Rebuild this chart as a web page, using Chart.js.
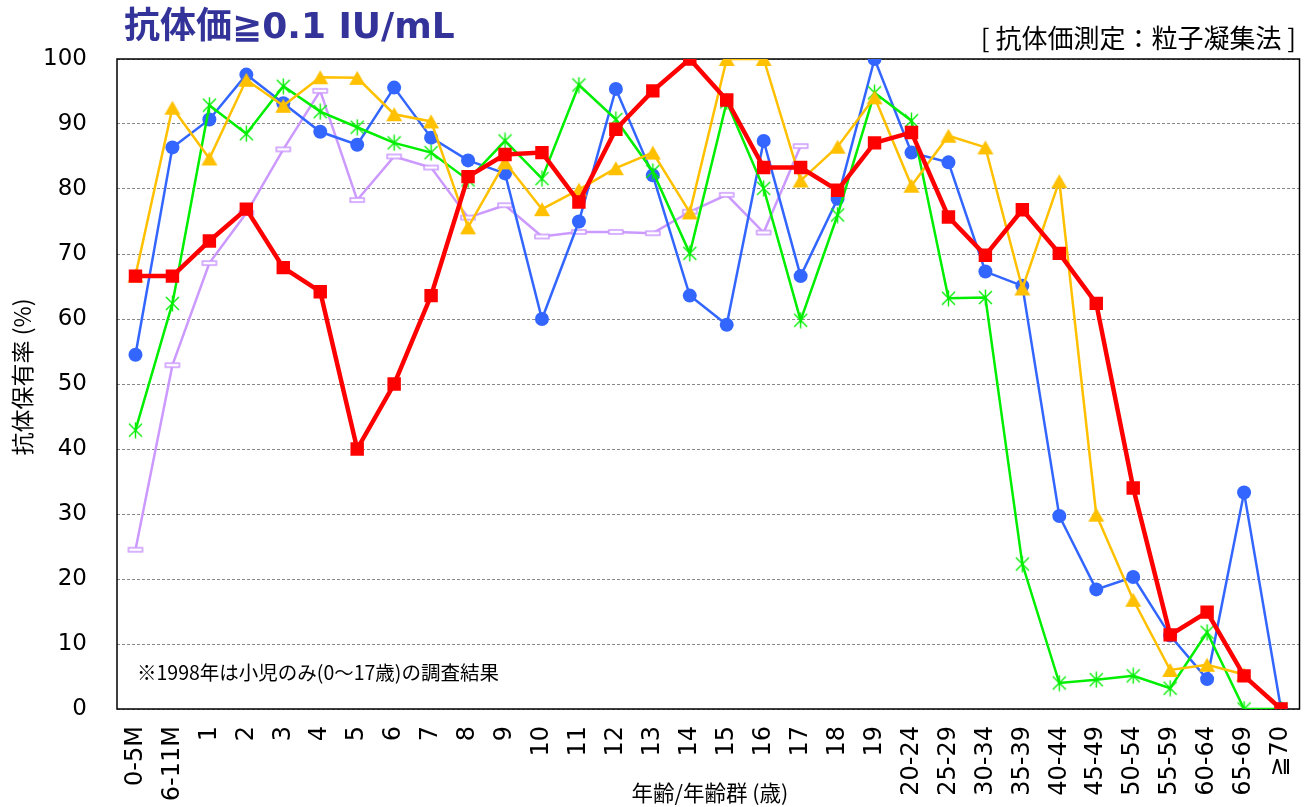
<!DOCTYPE html>
<html><head><meta charset="utf-8">
<script src="https://cdn.jsdelivr.net/npm/chart.js@4/dist/chart.umd.min.js"></script>
<style>html,body{margin:0;padding:0;background:#fff;overflow:hidden;}</style>
</head><body>
<canvas id="c" width="1309" height="807"></canvas>
<script>
const categories = ['0-5M','6-11M','1','2','3','4','5','6','7','8','9','10','11','12','13','14','15','16','17','18','19','20-24','25-29','30-34','35-39','40-44','45-49','50-54','55-59','60-64','65-69','≧70'];
const yTicks = [0,10,20,30,40,50,60,70,80,90,100];
const seriesBlue = [54.5,86.4,90.7,97.6,93.2,88.8,86.8,95.6,87.9,84.4,82.4,60.0,75.0,95.4,82.1,63.6,59.1,87.4,66.6,78.5,100,85.6,84.1,67.3,65.1,29.7,18.4,20.3,11.3,4.6,33.3,0];
const seriesYellow = [66.7,92.5,84.7,96.8,92.8,97.2,97.1,91.5,90.4,74.1,84.1,76.9,79.9,83.2,85.6,76.4,100,100,81.3,86.5,94.1,80.5,88.2,86.4,64.7,81.2,29.9,16.8,6.0,6.8,5.3,null];
const seriesGreen = [42.9,62.4,92.9,88.5,95.8,91.9,89.5,87.1,85.6,81.4,87.4,81.6,96.0,90.7,82.7,70.1,93.4,80.1,59.8,76.0,94.8,90.5,63.2,63.3,22.3,4.0,4.5,5.1,3.2,11.8,0,0];
const seriesLavender = [24.5,52.9,68.6,76.3,86.1,95.1,78.3,85.0,83.3,75.6,77.5,72.7,73.4,73.4,73.2,76.5,79.1,73.3,86.6,null,null,null,null,null,null,null,null,null,null,null,null,null];
const seriesRed = [66.6,66.6,72.0,76.9,67.9,64.2,40.0,50.0,63.6,81.9,85.3,85.6,78.0,89.2,95.1,100,93.7,83.3,83.3,79.8,87.1,88.7,75.7,69.8,76.8,70.1,62.4,34.0,11.4,14.9,5.1,0];

const titleText = '抗体価≧0.1 IU/mL';
const subtitleText = '[ 抗体価測定：粒子凝集法 ]';
const noteText = '※1998年は小児のみ(0～17歳)の調査結果';
const yTitle = '抗体保有率 (%)';
const xTitle = '年齢/年齢群 (歳)';

function mk(w,h,fn){const c=document.createElement('canvas');c.width=w;c.height=h;fn(c.getContext('2d'),w,h);return c;}
const starImg = mk(17,17,(g,w,h)=>{g.strokeStyle='#00EE00';g.lineWidth=1.4;g.beginPath();
  g.moveTo(2,2);g.lineTo(15,15);g.moveTo(15,2);g.lineTo(2,15);g.moveTo(8.5,0.5);g.lineTo(8.5,16.5);g.stroke();});
const barImg = mk(18,8,(g,w,h)=>{g.fillStyle='#fff';g.fillRect(2,2,14,4);g.strokeStyle='#CC99FF';g.lineWidth=1.5;g.strokeRect(2,2,14,4);});
const triImg = mk(18,16,(g,w,h)=>{g.fillStyle='#FFC000';g.beginPath();g.moveTo(9,1);g.lineTo(17,15);g.lineTo(1,15);g.closePath();g.fill();});

const CJK = '"Noto Sans CJK JP"';
const textPlugin = {
  id:'texts',
  beforeDatasetsDraw(chart){
    const {ctx, chartArea:a} = chart;
    ctx.save();
    ctx.strokeStyle='#000';ctx.lineWidth=1.5;
    ctx.strokeRect(a.left, a.top, a.right-a.left, a.bottom-a.top);
    ctx.restore();
  },
  afterDraw(chart){
    const ctx = chart.ctx;
    ctx.save();
    ctx.fillStyle='#333399';
    ctx.font='bold 36px "DejaVu Sans", '+CJK;
    ctx.textBaseline='middle';ctx.textAlign='left';
    ctx.fillText(titleText,124,29);
    ctx.fillStyle='#000';
    ctx.font='26px '+CJK;
    ctx.textAlign='right';
    ctx.fillText(subtitleText,1296,38);
    ctx.textAlign='left';
    ctx.font='19.5px '+CJK;
    ctx.fillText(noteText,137,673);
    ctx.textAlign='center';
    ctx.font='21.5px '+CJK;
    ctx.fillText(xTitle,710,793);
    ctx.translate(22,377);ctx.rotate(-Math.PI/2);
    ctx.font='23px '+CJK;
    ctx.fillText(yTitle,0,0);
    ctx.restore();
  }
};

const ds = (label,data,color,width,style,radius,order)=>({label,data,borderColor:color,backgroundColor:color,borderWidth:width,
  pointStyle:style,pointRadius:radius,pointHoverRadius:radius,pointBorderWidth:0,tension:0,spanGaps:false,order});

new Chart(document.getElementById('c'),{
  type:'line',
  data:{labels:categories,datasets:[
    ds('red',seriesRed,'#FF0000',4.5,'rect',9.5,0),
    ds('yellow',seriesYellow,'#FFC000',2.5,triImg,8,1),
    ds('green',seriesGreen,'#00EE00',2.5,starImg,8,2),
    ds('blue',seriesBlue,'#3366FF',2.5,'circle',7,3),
    ds('lavender',seriesLavender,'#CC99FF',2.5,barImg,7,4)
  ]},
  options:{
    responsive:false,animation:false,devicePixelRatio:1,
    layout:{padding:{top:59,right:8,left:0,bottom:0}},
    plugins:{legend:{display:false},tooltip:{enabled:false}},
    scales:{
      x:{type:'category',offset:true,grid:{display:false},border:{display:false},
        ticks:{minRotation:90,maxRotation:90,autoSkip:false,color:'#000',padding:9,font:{family:'"DejaVu Sans"',size:24}},
        afterFit(s){s.height=98;s.paddingLeft=0;s.paddingRight=0;}},
      y:{min:0,max:100,afterBuildTicks(s){s.ticks=yTicks.map(v=>({value:v}));},
        grid:{color:'#888',lineWidth:1,drawTicks:false},border:{display:false,dash:[3,2]},
        ticks:{color:'#000',padding:30,font:{family:'"DejaVu Sans"',size:23}},
        afterFit(s){s.width=117;s.paddingTop=0;s.paddingBottom=0;}}
    }
  },
  plugins:[textPlugin]
});
</script>
</body></html>
